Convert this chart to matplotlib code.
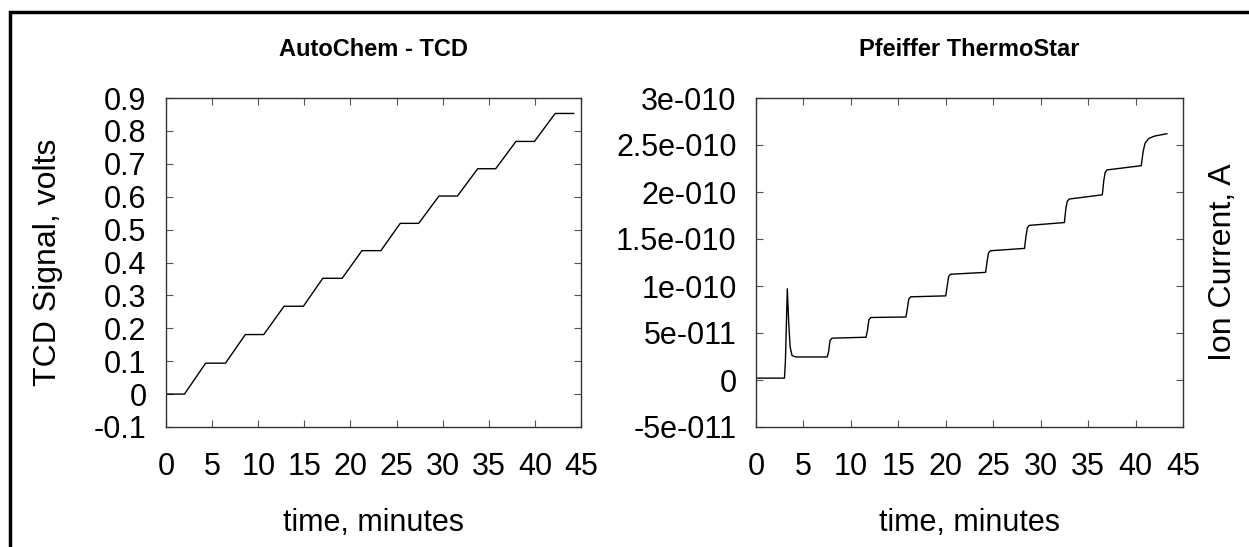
import matplotlib
matplotlib.use('Agg')
import matplotlib.pyplot as plt
from matplotlib.ticker import MultipleLocator, FuncFormatter
from matplotlib.patches import Rectangle

plt.rcParams['font.family'] = ['Liberation Sans', 'DejaVu Sans']

# AutoChem TCD trace (minutes, volts)
tcd_time = [0, 2.0, 4.3, 6.45, 8.6, 10.6, 12.8, 14.9, 17.0, 19.1, 21.25, 23.3,
            25.4, 27.4, 29.6, 31.6, 33.8, 35.75, 37.95, 39.95, 42.2, 44.2]
tcd_signal = [0, 0, 0.094, 0.094, 0.181, 0.181, 0.267, 0.267, 0.352, 0.352, 0.436, 0.436,
              0.519, 0.519, 0.602, 0.602, 0.685, 0.685, 0.768, 0.768, 0.853, 0.853]

# Pfeiffer ThermoStar ion current (minutes, A)
ms_time = [0, 3.0, 3.1, 3.3, 3.45, 3.6, 3.8, 4.2, 7.5, 7.65, 7.8, 8.0,
           11.6, 11.75, 11.9, 12.1, 15.8, 15.95, 16.1, 16.3, 20.0, 20.15, 20.3, 20.5,
           24.2, 24.35, 24.5, 24.7, 28.3, 28.45, 28.6, 28.8, 32.5, 32.65, 32.8, 33.0,
           36.5, 36.65, 36.8, 37.0, 40.6, 40.8, 41.0, 41.4, 42.0, 43.3]
ms_current = [0.2e-11, 0.2e-11, 2e-11, 9.7e-11, 6e-11, 3.5e-11, 2.6e-11, 2.45e-11, 2.45e-11, 3.0e-11, 4.2e-11, 4.45e-11,
              4.55e-11, 5.3e-11, 6.4e-11, 6.65e-11, 6.7e-11, 7.6e-11, 8.6e-11, 8.85e-11, 8.95e-11, 10e-11, 11.0e-11, 11.25e-11,
              11.45e-11, 12.6e-11, 13.5e-11, 13.75e-11, 14.0e-11, 15.3e-11, 16.2e-11, 16.45e-11, 16.75e-11, 18.2e-11, 19.0e-11, 19.25e-11,
              19.7e-11, 21.2e-11, 22.1e-11, 22.35e-11, 22.8e-11, 24.3e-11, 25.2e-11, 25.7e-11, 25.95e-11, 26.2e-11]


def c_exp(v, pos):
    if abs(v) < 1e-15:
        return '0'
    s = '%g' % v
    return s.replace('e-', 'e-0')


def plain(v, pos):
    if abs(v) < 1e-9:
        return '0'
    return '%g' % v


fig = plt.figure(figsize=(12.49, 5.47), dpi=100)
W, H = 1249, 547

# outer frame (open at right/bottom, cut by image edge)
fig.patches.append(Rectangle((10 / W, -0.2), 1.2, 1.2 - 12 / H, transform=fig.transFigure,
                             fill=False, edgecolor='black', linewidth=2.5, clip_on=False))

ax1 = fig.add_axes([166 / W, 1 - 427 / H, (581 - 166) / W, (427 - 98) / H])
ax2 = fig.add_axes([756 / W, 1 - 427 / H, (1183 - 756) / W, (427 - 98) / H])

ax1.plot(tcd_time, tcd_signal, color='black', linewidth=1.0)
ax2.plot(ms_time, ms_current, color='black', linewidth=1.0)

ax1.set_xlim(0, 45)
ax1.set_ylim(-0.1, 0.9)
ax1.yaxis.set_major_locator(MultipleLocator(0.1))
ax1.yaxis.set_major_formatter(FuncFormatter(plain))

ax2.set_xlim(0, 45)
ax2.set_ylim(-5e-11, 3e-10)
ax2.yaxis.set_major_locator(MultipleLocator(5e-11))
ax2.yaxis.set_major_formatter(FuncFormatter(c_exp))

for ax in (ax1, ax2):
    ax.xaxis.set_major_locator(MultipleLocator(5))
    ax.xaxis.set_major_formatter(FuncFormatter(plain))
    ax.tick_params(direction='in', length=5, width=0.8, color='#555555', labelsize=22,
                   top=True, right=True)
    ax.tick_params(axis='y', pad=14)
    ax.tick_params(axis='x', pad=18)
    for sp in ax.spines.values():
        sp.set_color('#333333')
        sp.set_linewidth(1.0)
    ax.set_xlabel('time, minutes', fontsize=22, labelpad=19)

ax1.set_title('AutoChem - TCD', fontsize=17, fontweight='bold', pad=30)
ax2.set_title('Pfeiffer ThermoStar', fontsize=17, fontweight='bold', pad=30)

ax1.set_ylabel('TCD Signal, volts', fontsize=23)
ax1.yaxis.set_label_coords(-0.247, 0.5)
ax2.yaxis.set_label_position('right')
ax2.set_ylabel('Ion Current, A', fontsize=23)
ax2.yaxis.set_label_coords(1.058, 0.5)

fig.savefig('out.png', dpi=100)
